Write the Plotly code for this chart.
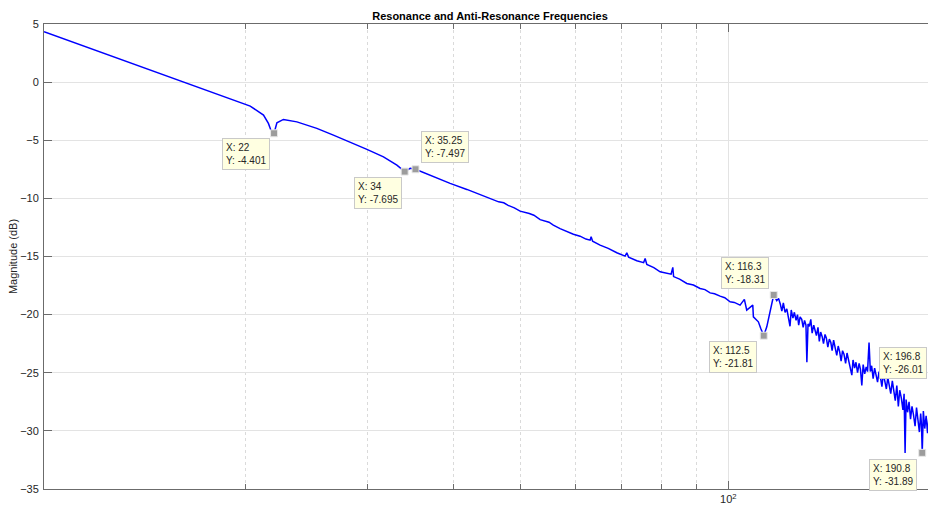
import math
import plotly.graph_objects as go

# Measured magnitude response (frequency in Hz, magnitude in dB), low band
freq_low = [10.22, 11.15, 12.88, 13.62, 15.56, 16.45, 17.98, 19.01, 20.32, 21.24,
            21.59, 21.77, 22.0, 22.21, 22.70, 23.74, 25.37, 26.81, 28.35, 29.98,
            31.68, 33.13, 34.0, 34.63, 35.25, 37.42, 39.56, 41.83, 45.20, 46.5,
            47.3, 48.0, 49.0, 49.95, 51.5, 52.3, 53.40, 55.0, 55.8, 57.07,
            59.66, 61.0, 62.2, 63.08, 63.29, 63.60, 65.21, 67.0, 68.95, 70.88,
            71.28, 71.71, 73.70, 75.39, 75.77, 76.20, 78.0, 79.65, 82.62, 83.09,
            83.31, 85.0, 87.06, 89.0, 91.00, 92.5, 94.09, 95.5, 97.27, 98.8,
            100.57, 102.0, 103.97, 105.47, 106.31, 107.5, 108.47, 108.69, 110.51, 111.40,
            112.5, 113.65, 114.89, 116.3]
mag_low = [4.33, 3.52, 2.18, 1.67, 0.43, -0.09, -0.90, -1.42, -2.06, -2.84,
           -3.55, -4.13, -4.401, -3.50, -3.21, -3.42, -3.98, -4.56, -5.14, -5.79,
           -6.43, -7.14, -7.695, -7.42, -7.497, -8.15, -8.71, -9.23, -10.00, -10.30,
           -10.38, -10.60, -10.82, -11.10, -11.30, -11.45, -11.83, -12.05, -12.30, -12.60,
           -13.08, -13.25, -13.50, -13.59, -13.29, -13.68, -14.02, -14.30, -14.68, -14.97,
           -14.68, -15.05, -15.37, -15.53, -15.17, -15.68, -15.95, -16.32, -16.52, -15.94,
           -16.73, -16.95, -17.32, -17.45, -17.75, -17.85, -18.13, -18.20, -18.41, -18.55,
           -18.90, -18.95, -19.18, -18.69, -19.61, -19.40, -19.18, -20.19, -20.62, -21.19,
           -21.81, -21.05, -19.76, -18.31]

# High band, above the 116 Hz resonance (noisy measurement)
freq_high = [117.5, 118.2, 118.9, 119.5, 120.1, 120.8, 121.5, 122.0, 122.8, 123.3,
             124.0, 124.6, 125.3, 125.9, 126.4, 127.0, 127.7, 128.3, 128.9, 129.5,
             129.9, 130.4, 131.0, 131.6, 132.2, 132.9, 133.5, 134.1, 134.8, 135.4,
             136.0, 136.7, 137.3, 138.0, 138.6, 139.3, 140.0, 140.7, 141.3, 142.0,
             142.8, 143.5, 144.2, 144.9, 145.6, 146.3, 147.0, 147.8, 148.5, 149.3,
             150.0, 150.9, 151.5, 152.3, 153.0, 153.8, 154.6, 155.3, 156.0, 156.7,
             157.5, 158.3, 159.0, 159.8, 160.5, 161.2, 162.0, 162.8, 163.6, 164.4,
             165.2, 166.0, 166.8, 167.6, 168.4, 169.3, 170.1, 171.0, 171.8, 172.7,
             173.5, 174.4, 175.3, 176.2, 177.0, 178.0, 178.9, 179.6, 180.2, 180.8,
             181.7, 182.6, 183.5, 184.4, 185.3, 186.3, 187.2, 188.1, 189.0, 189.8,
             190.3, 190.8, 191.5, 192.4, 193.3, 194.2, 195.1, 196.8]
mag_high = [-18.8, -18.6, -19.1, -19.7, -19.0, -19.8, -19.5, -20.1, -21.0, -19.6,
            -20.3, -19.8, -20.5, -20.0, -20.9, -20.2, -20.4, -21.1, -20.5, -20.9,
            -24.1, -20.8, -21.0, -20.4, -21.6, -20.9, -21.3, -21.8, -21.1, -22.3,
            -21.5, -21.9, -22.5, -21.7, -22.0, -22.8, -22.1, -22.4, -23.1, -22.2,
            -22.9, -23.5, -22.7, -23.2, -24.0, -23.1, -23.4, -24.2, -23.3, -23.9,
            -24.3, -25.2, -23.9, -24.6, -24.1, -25.0, -24.2, -24.7, -26.1, -24.3,
            -25.1, -24.5, -24.9, -22.4, -24.9, -24.4, -25.5, -24.6, -25.2, -25.8,
            -24.9, -25.4, -26.2, -25.1, -25.7, -26.4, -25.4, -26.0, -26.8, -25.7,
            -26.5, -27.4, -26.1, -27.9, -26.5, -27.2, -28.2, -26.8, -31.9, -27.3,
            -28.4, -27.5, -29.0, -27.9, -28.6, -29.6, -28.0, -29.2, -30.1, -28.5,
            -29.4, -31.89, -28.3, -29.8, -28.7, -30.2, -28.9, -26.01]

# Data tips: resonance / anti-resonance points
tip_x = [22, 34, 35.25, 112.5, 116.3, 190.8, 196.8]
tip_y = [-4.401, -7.695, -7.497, -21.81, -18.31, -31.89, -26.01]

x_range = [10.22, 194.5]
y_range = [-35, 5]
y_ticks = [5, 0, -5, -10, -15, -20, -25, -30, -35]
x_major = [100]
x_major_text = ["10<sup>2</sup>"]
x_minor = [20, 30, 40, 50, 60, 70, 80, 90]

# box placement for each tip: (xanchor, yanchor, xshift, yshift)
tip_place = [("right", "top", -4, -5),
             ("right", "top", -3, -5),
             ("left", "bottom", 5, 6),
             ("right", "top", -7, -5),
             ("right", "bottom", -5, 6),
             ("right", "top", -5, -6),
             ("right", "bottom", -5, 5)]

AX = "#6b6b6b"
TXT = "#262626"
GRID = "#e3e3e3"
FONT = "Liberation Sans, Arial, Helvetica, sans-serif"

fig = go.Figure()
fig.add_trace(go.Scatter(x=freq_low + freq_high, y=mag_low + mag_high, mode="lines",
                         line=dict(color="#0000ff", width=1.5),
                         showlegend=False, hoverinfo="skip"))

lx0, lx1 = math.log10(x_range[0]), math.log10(x_range[1])
in_x = [i for i, v in enumerate(tip_x) if x_range[0] <= v <= x_range[1]]
fig.add_trace(go.Scatter(x=[tip_x[i] for i in in_x], y=[tip_y[i] for i in in_x],
                         mode="markers", cliponaxis=False,
                         marker=dict(symbol="square", size=7, color="#9c9c9c",
                                     line=dict(color="#e8e8e8", width=1)),
                         showlegend=False, hoverinfo="skip"))

for i, (xv, yv) in enumerate(zip(tip_x, tip_y)):
    xa, ya, xs, ys = tip_place[i]
    inside = x_range[0] <= xv <= x_range[1]
    ann = dict(text=f"X: {xv:g}<br>Y: {yv:g}", showarrow=False,
               xanchor=xa, yanchor=ya, xshift=xs, yshift=ys, align="left",
               bgcolor="#ffffe1", bordercolor="#c9c9c9", borderwidth=1, borderpad=3,
               font=dict(family=FONT, size=10, color=TXT), y=yv, yref="y")
    if inside:
        # annotation positions on a log axis are given in log10 units
        ann.update(x=math.log10(xv), xref="x")
    else:
        ann.update(x=(math.log10(xv) - lx0) / (lx1 - lx0), xref="paper")
    fig.add_annotation(**ann)

fig.update_layout(
    width=928, height=508,
    margin=dict(l=44, r=0, t=24, b=19),
    paper_bgcolor="white", plot_bgcolor="white",
    font=dict(family=FONT, size=11, color=TXT),
    title=dict(text="<b>Resonance and Anti-Resonance Frequencies</b>",
               x=490 / 928, xanchor="center", y=1 - 16 / 508, yanchor="middle",
               font=dict(size=11, color="#000000")),
    xaxis=dict(type="log", range=[lx0, lx1], showline=True, linecolor=AX, linewidth=1,
               mirror="ticks", ticks="inside", ticklen=8, tickcolor=AX,
               tickvals=x_major, ticktext=x_major_text, showgrid=True, gridcolor=GRID,
               zeroline=False, tickfont=dict(size=11, color=TXT),
               minor=dict(tickvals=x_minor, ticks="inside", ticklen=5, tickcolor=AX,
                          showgrid=True, gridcolor="#dadada", griddash="dot")),
    yaxis=dict(range=y_range, showline=True, linecolor=AX, linewidth=1, mirror=False,
               ticks="inside", ticklen=8, tickcolor=AX, tickvals=y_ticks,
               showgrid=True, gridcolor=GRID, zeroline=False,
               tickfont=dict(size=11, color=TXT), ticklabelstandoff=2,
               title=dict(text="Magnitude (dB)", standoff=0,
                          font=dict(size=11, color=TXT))),
)

fig.write_html("out.html")
